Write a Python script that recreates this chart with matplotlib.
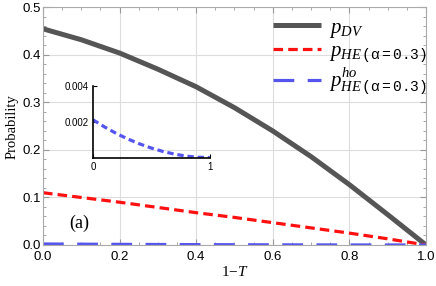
import numpy as np
import matplotlib
matplotlib.use("Agg")
import matplotlib.pyplot as plt

plt.rcParams['mathtext.fontset'] = 'custom'
plt.rcParams['mathtext.rm'] = 'Liberation Serif'
plt.rcParams['mathtext.it'] = 'Liberation Serif:italic'
plt.rcParams['mathtext.tt'] = 'Liberation Mono'
plt.rcParams['font.family'] = 'Liberation Sans'

# values
one_minus_T = [0.0, 0.1, 0.2, 0.3, 0.4, 0.5, 0.6, 0.7, 0.8, 0.9, 1.0]
p_dv = [0.455, 0.432, 0.404, 0.370, 0.333, 0.289, 0.240, 0.186, 0.127, 0.064, 0.0]
p_he = [0.110, 0.100, 0.090, 0.079, 0.068, 0.058, 0.047, 0.036, 0.025, 0.013, 0.0]
p_he_ho = [0.0021, 0.0017, 0.00134, 0.00103, 0.00076, 0.00053, 0.00034, 0.00019, 0.00008, 0.00002, 0.0]

x_ticks = [0.0, 0.2, 0.4, 0.6, 0.8, 1.0]
y_ticks = [0.0, 0.1, 0.2, 0.3, 0.4, 0.5]

grey = '#555555'
red = '#ff1010'
blue = '#5555ee'

fig = plt.figure(figsize=(4.36, 2.86), dpi=100)
ax = fig.add_axes([0.0986, 0.1434, 0.8784, 0.8306])

ax.plot(one_minus_T, p_dv, color=grey, lw=3.6, solid_capstyle='butt', label=r'$p_{DV}$')
ax.plot(one_minus_T, p_he, color=red, lw=2.3, dashes=(3.0, 1.6),
        label=r'$p_{HE\,\mathtt{(\alpha=0.3)}}$')
ax.plot(one_minus_T, p_he_ho, color=blue, lw=2.3, dashes=(6.5, 4.2),
        label=r'$p_{HE\,\mathtt{(\alpha=0.3)}}^{ho}$')

ax.set_xlim(0, 1)
ax.set_ylim(0, 0.5)
ax.set_xticks(x_ticks)
ax.set_yticks(y_ticks)
ax.set_xticklabels(['%.1f' % v for v in x_ticks])
ax.set_yticklabels(['%.1f' % v for v in y_ticks])
ax.set_xticks(np.arange(0, 1.001, 0.05), minor=True)
ax.set_yticks(np.arange(0, 0.501, 0.02), minor=True)
ax.tick_params(which='both', direction='in', top=True, right=True, color='#999999', labelsize=9.5)
ax.tick_params(axis='y', pad=1.5)
ax.tick_params(axis='x', pad=4)
ax.tick_params(which='major', length=4)
ax.tick_params(which='minor', length=2)
for s in ax.spines.values():
    s.set_color('#aaaaaa')
ax.grid(True, color='#dddddd', lw=0.8)
ax.set_axisbelow(True)

ax.set_xlabel(r'$1\mathrm{-}T$', fontsize=11, labelpad=2)
ax.set_ylabel('Probability', family='Liberation Serif', fontsize=10.5, labelpad=3)
ax.text(0.095, 0.046, '(a)', family='Liberation Serif', fontsize=13, ha='center', va='center')

leg = ax.legend(loc='upper right', frameon=False, fontsize=15, handlelength=2.3,
                borderaxespad=0.2, labelspacing=0.1, handletextpad=0.4,
                bbox_to_anchor=(1.036, 1.01))

# inset
ins = fig.add_axes([0.213, 0.449, 0.268, 0.252])
ins.plot(one_minus_T, p_he_ho, color=blue, lw=2.3, dashes=(2.0, 1.2))
ins.set_xlim(0, 1)
ins.set_ylim(0, 0.004)
ins.set_xticks([0, 1])
ins.set_yticks([0.002, 0.004])
ins.set_xticklabels(['0', '1'])
ins.set_yticklabels(['0.002', '0.004'])
ins.patch.set_alpha(0)
ins.spines['top'].set_visible(False)
ins.spines['right'].set_visible(False)
ins.spines['left'].set_linewidth(1.2)
ins.spines['bottom'].set_linewidth(1.2)
ins.tick_params(direction='in', length=3, labelsize=7, pad=3)

fig.savefig('out.png', dpi=100)
